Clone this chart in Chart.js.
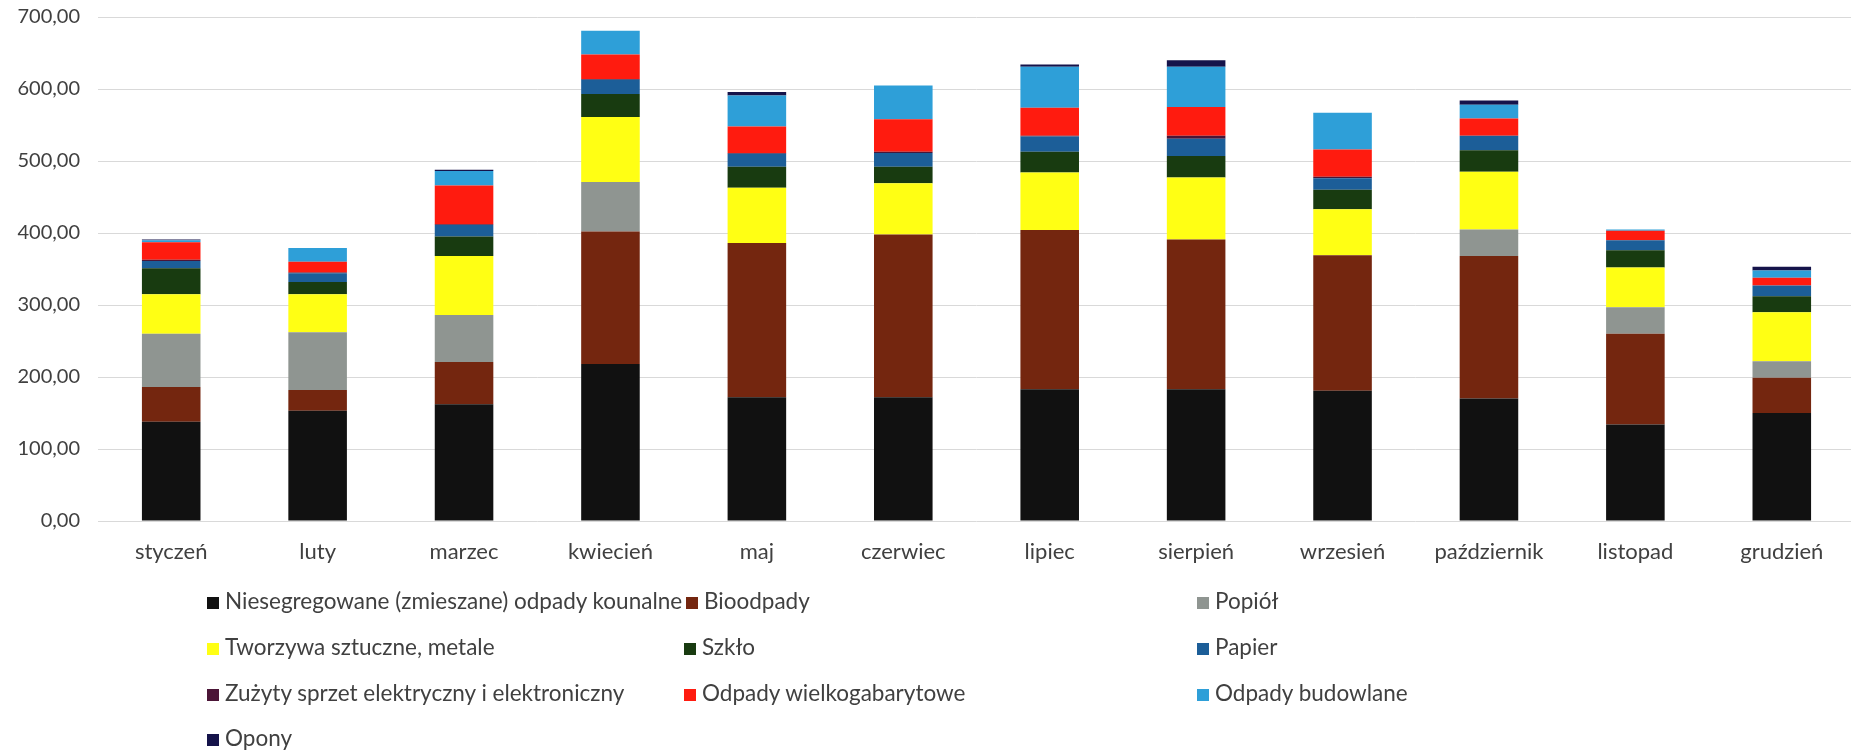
<!DOCTYPE html>
<html lang="pl">
<head>
<meta charset="utf-8">
<title>Odpady 2019</title>
<script src="https://cdn.jsdelivr.net/npm/chart.js@4.4.1/dist/chart.umd.min.js"></script>
<style>
    html, body { margin: 0; padding: 0; background: #fff; overflow: hidden; }
    body { width: 1851px; height: 751px; position: relative; font-family: Lato, "Open Sans", sans-serif; }
    #chartBox { position: absolute; left: 0; top: 0; width: 1855px; height: 572px; }
    #legend { position: absolute; left: 0; top: 0; width: 1851px; height: 751px; }
    .leg-item { position: absolute; white-space: nowrap; font-size: 22.5px; color: #404040; line-height: 26px; transform: translateY(-50%); }
    .leg-box { display: inline-block; width: 12px; height: 12px; margin-right: 6px; vertical-align: 0px; }
</style>
</head>
<body>
<div id="chartBox"><canvas id="wasteChart" width="1855" height="572"></canvas></div>
<div id="legend"></div>
<script>
// Categories and tick labels
const months = ['styczeń', 'luty', 'marzec', 'kwiecień', 'maj', 'czerwiec', 'lipiec', 'sierpień', 'wrzesień', 'październik', 'listopad', 'grudzień'];
const yTicks = [0, 100, 200, 300, 400, 500, 600, 700];

// Series values
const zmieszane   = [138, 153, 162, 218, 172, 172, 183, 183, 181, 170, 134, 150];
const bioodpady   = [48, 29, 59, 184, 214, 226, 221, 208, 188, 198, 126, 49];
const popiol      = [74, 80, 65, 69, 0, 0, 0, 0, 0, 37, 37, 23];
const tworzywa    = [55, 53, 82, 90, 77, 71, 80, 86, 64, 80, 55, 68];
const szklo       = [36, 17, 27, 32, 29, 23, 29, 30, 27, 30, 24, 22];
const papier      = [10, 12, 16, 20, 18, 19, 21, 24, 16, 20, 14, 15];
const elektro     = [2, 1, 1, 1, 1, 2, 1, 4, 2, 0, 0, 0];
const wielkogab   = [24, 15, 54, 34, 37, 45, 39, 40, 38, 24, 13, 11];
const budowlane   = [3, 19, 20, 33, 43, 47, 57, 56, 51, 19, 2, 10];
const opony       = [1, 0, 2, 0, 5, 0, 3, 9, 0, 6, 0, 5];

const seriesNames = [
    'Niesegregowane (zmieszane) odpady kounalne', 'Bioodpady', 'Popiół',
    'Tworzywa sztuczne, metale', 'Szkło', 'Papier',
    'Zużyty sprzet elektryczny i elektroniczny', 'Odpady wielkogabarytowe', 'Odpady budowlane',
    'Opony'
];
const seriesValues = [zmieszane, bioodpady, popiol, tworzywa, szklo, papier, elektro, wielkogab, budowlane, opony];
const seriesColors = ['#111111', '#74260f', '#8f9591', '#ffff14', '#183b10', '#1c5e98', '#4b1537', '#ff1b0f', '#2e9fd8', '#15134a'];

// Legend layout (Excel-like three columns)
const legendCols = [207, 684, 1197];
const legendRows = [601, 647, 693, 738];

document.addEventListener('DOMContentLoaded', function() {
    const textColor = '#404040';
    const ctx = document.getElementById('wasteChart').getContext('2d');

    const datasets = seriesNames.map(function(name, i) {
        return {
            label: name,
            data: seriesValues[i],
            backgroundColor: seriesColors[i],
            borderWidth: 0,
            barPercentage: 0.4,
            categoryPercentage: 1.0
        };
    });

    const wasteChart = new Chart(ctx, {
        type: 'bar',
        data: { labels: months, datasets: datasets },
        options: {
            responsive: false,
            animation: false,
            layout: { padding: { top: 17, right: 0, left: 0, bottom: 0 } },
            plugins: {
                legend: { display: false },
                tooltip: { enabled: false }
            },
            scales: {
                x: {
                    stacked: true,
                    grid: { display: false },
                    border: { display: false },
                    ticks: { color: textColor, font: { family: 'Lato', size: 22 }, padding: 10, maxRotation: 0 },
                    afterFit: function(scale) { scale.height = 51; }
                },
                y: {
                    stacked: true,
                    min: yTicks[0],
                    max: yTicks[yTicks.length - 1],
                    afterBuildTicks: function(scale) {
                        scale.ticks = yTicks.map(function(v) { return { value: v }; });
                    },
                    grid: { color: '#d9d9d9', lineWidth: 1, drawTicks: false },
                    border: { display: false },
                    ticks: {
                        color: textColor,
                        font: { family: 'Lato', size: 20 },
                        padding: 18,
                        callback: function(value) {
                            return value.toFixed(2).replace('.', ',');
                        }
                    },
                    afterFit: function(scale) {
                        scale.width = 98;
                        scale.paddingTop = 0;
                        scale.paddingBottom = 0;
                    }
                }
            }
        }
    });

    // HTML legend built from the chart datasets
    const legend = document.getElementById('legend');
    const items = [];
    wasteChart.data.datasets.forEach(function(ds, i) {
        const item = document.createElement('div');
        item.className = 'leg-item';
        const box = document.createElement('span');
        box.className = 'leg-box';
        box.style.background = ds.backgroundColor;
        item.appendChild(box);
        item.appendChild(document.createTextNode(ds.label));
        item.style.left = legendCols[i % 3] + 'px';
        item.style.top = legendRows[Math.floor(i / 3)] + 'px';
        legend.appendChild(item);
        items.push(item);
    });
    // push the second column item to the right when the first one is too long
    for (let r = 0; r < items.length; r += 3) {
        if (items[r + 1]) {
            const end = items[r].offsetLeft + items[r].offsetWidth + 4;
            if (end > legendCols[1]) items[r + 1].style.left = end + 'px';
        }
    }
});
</script>
</body>
</html>
